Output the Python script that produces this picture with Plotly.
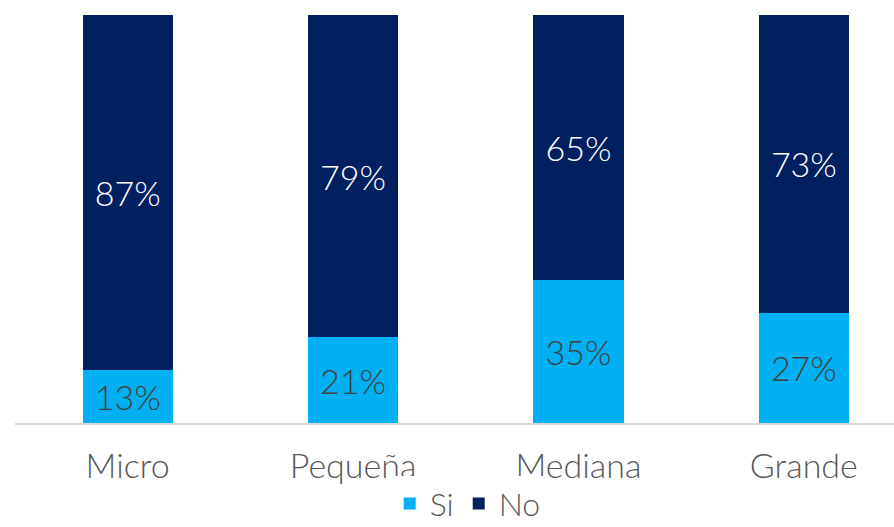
import plotly.graph_objects as go

categories = ["Micro", "Pequeña", "Mediana", "Grande"]
si_values = [13, 21, 35, 27]
no_values = [87, 79, 65, 73]
series_names = ["Si", "No"]

FONT = "Lato"
fig = go.Figure()
fig.add_trace(go.Bar(
    x=categories, y=si_values, name=series_names[0],
    marker=dict(color="#00B0F0", line=dict(width=0)),
    text=[f"{v}%" for v in si_values], textposition="inside",
    insidetextanchor="middle",
    textfont=dict(family=FONT, size=34, color="#404040", weight=300),
    width=0.4,
))
fig.add_trace(go.Bar(
    x=categories, y=no_values, name=series_names[1],
    marker=dict(color="#002060", line=dict(width=0)),
    text=[f"{v}%" for v in no_values], textposition="inside",
    insidetextanchor="middle",
    textfont=dict(family=FONT, size=34, color="#FFFFFF", weight=300),
    width=0.4,
))

fig.update_layout(
    barmode="stack",
    width=894, height=527,
    margin=dict(l=15, r=0, t=15, b=104, autoexpand=False),
    plot_bgcolor="white", paper_bgcolor="white",
    uniformtext=dict(mode=False),
    xaxis=dict(
        range=[-0.5, 3.40],
        automargin=False,
        showline=True, linecolor="#D9D9D9", linewidth=2,
        showgrid=False, ticks="", ticklabelstandoff=12,
        tickfont=dict(family=FONT, size=34, color="#595959", weight=300),
        fixedrange=True,
    ),
    yaxis=dict(range=[0, 100], visible=False, showgrid=False, zeroline=False,
               automargin=False, fixedrange=True),
    showlegend=True,
    legend=dict(
        orientation="h", x=0.515, xanchor="center", y=-0.198, yanchor="middle",
        traceorder="normal",
        font=dict(family=FONT, size=32, color="#595959", weight=300),
        tracegroupgap=0,
    ),
    bargap=0.6,
)
fig.write_html(
    "out.html",
    config={"displayModeBar": False},
    post_script="document.body.style.margin='0';document.body.style.overflow='hidden';",
)
